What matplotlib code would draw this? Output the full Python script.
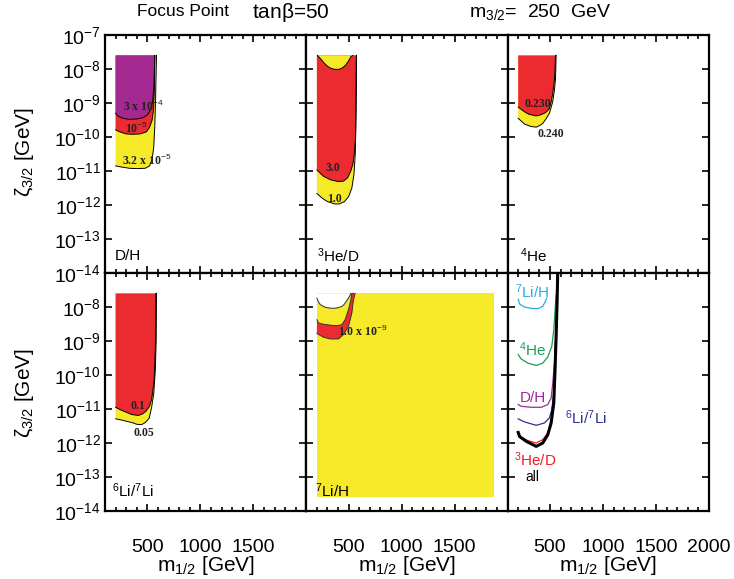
import numpy as np
import matplotlib
matplotlib.use('Agg')
import matplotlib.pyplot as plt
from matplotlib.ticker import FixedLocator, MultipleLocator, NullFormatter

plt.rcParams['font.family'] = ['Liberation Sans', 'DejaVu Sans']
plt.rcParams['mathtext.fontset'] = 'custom'
plt.rcParams['mathtext.rm'] = 'Liberation Sans'
plt.rcParams['mathtext.it'] = 'Liberation Sans:italic'
plt.rcParams['mathtext.bf'] = 'Liberation Sans:bold'

PURPLE = '#a3288f'
RED = '#ec2b30'
YELLOW = '#f6e928'

TOP = -7.6   # upper edge of the scanned region (log10 zeta)
M0 = 200     # left edge of the scanned region

# ---- D/H (top left): boundary curves, m_1/2 [GeV] and log10(zeta_3/2)
dh_yel_m = [586, 578, 570, 560, 545, 520, 480, 400, 330, 250, 200]
dh_yel_lz = [-7.6, -8.8, -9.7, -10.3, -10.65, -10.85, -10.92, -10.93, -10.92, -10.88, -10.85]
dh_red_m = [570, 566, 558, 545, 520, 490, 430, 360, 300, 240, 200]
dh_red_lz = [-7.6, -8.6, -9.2, -9.5, -9.72, -9.85, -9.91, -9.92, -9.91, -9.85, -9.79]
dh_pur_m = [570, 562, 550, 530, 500, 460, 400, 320, 260, 220, 200]
dh_pur_lz = [-7.6, -8.5, -8.95, -9.2, -9.35, -9.43, -9.47, -9.48, -9.44, -9.38, -9.30]

# ---- 3He/D (top middle)
he3_yel_m = [573, 570, 562, 550, 530, 500, 460, 410, 370, 300, 250, 200]
he3_yel_lz = [-7.6, -9.3, -10.5, -11.1, -11.5, -11.75, -11.9, -11.97, -11.97, -11.9, -11.8, -11.66]
he3_red_m = [573, 570, 565, 555, 540, 520, 490, 450, 400, 330, 260, 200]
he3_red_lz = [-7.6, -8.8, -10.0, -10.45, -10.8, -11.0, -11.2, -11.3, -11.31, -11.26, -11.15, -10.97]
he3_cap_m = [205, 240, 270, 300, 332, 370, 410, 445, 473, 500, 520, 540]
he3_cap_lz = [-7.6, -7.72, -7.83, -7.92, -7.98, -8.01, -8.01, -7.96, -7.88, -7.76, -7.64, -7.6]

# ---- 4He (top right)
he4_yel_m = [558, 552, 542, 526, 495, 460, 432, 400, 370, 320, 260, 200]
he4_yel_lz = [-7.6, -8.3, -8.62, -8.96, -9.30, -9.48, -9.60, -9.67, -9.71, -9.69, -9.62, -9.45]
he4_red_m = [552, 548, 542, 526, 511, 495, 470, 448, 410, 370, 300, 260, 200]
he4_red_lz = [-7.6, -8.0, -8.32, -8.72, -8.96, -9.16, -9.25, -9.30, -9.35, -9.38, -9.33, -9.26, -9.12]

# ---- 6Li/7Li (bottom left)
li6_yel_m = [586, 583, 575, 560, 540, 517, 480, 445, 400, 366, 300, 250, 200]
li6_yel_lz = [-7.6, -9.0, -9.84, -10.55, -10.95, -11.27, -11.40, -11.46, -11.45, -11.41, -11.36, -11.32, -11.29]
li6_red_m = [580, 578, 570, 564, 550, 539, 520, 486, 450, 413, 350, 304, 250, 200]
li6_red_lz = [-7.6, -8.86, -9.7, -10.14, -10.5, -10.73, -10.92, -11.07, -11.15, -11.19, -11.16, -11.10, -11.03, -10.95]

# ---- 7Li/H (bottom middle)
li7_box_m = [200, 1875]
li7_box_lz = [-13.6, -7.6]
li7_red_up_m = [545, 530, 520, 498, 467, 436, 389, 340, 295, 250, 216, 200]
li7_red_up_lz = [-7.6, -7.6, -7.79, -8.08, -8.37, -8.52, -8.55, -8.54, -8.52, -8.50, -8.47, -8.37]
li7_red_lo_m = [200, 216, 263, 326, 404, 451, 498, 530, 545, 561]
li7_red_lo_lz = [-8.77, -8.81, -8.89, -8.94, -8.94, -8.81, -8.57, -8.18, -7.79, -7.6]
li7_cap_m = [200, 215, 232, 255, 279, 320, 357, 400, 436, 455, 467, 485, 498, 512, 520]
li7_cap_lz = [-7.74, -7.85, -7.93, -7.97, -8.01, -8.03, -8.04, -8.02, -7.98, -7.93, -7.88, -7.80, -7.74, -7.66, -7.6]

# ---- all constraints (bottom right): boundary lines
c_li7_m = [200, 213, 260, 323, 385, 432, 454, 470]
c_li7_lz = [-7.77, -7.91, -8.00, -8.04, -8.05, -7.98, -7.85, -7.74]
c_he4_m = [200, 229, 291, 370, 432, 479, 517, 536, 548, 558]
c_he4_lz = [-9.40, -9.53, -9.65, -9.72, -9.65, -9.47, -9.16, -8.67, -8.08, -7.64]
c_dh_m = [200, 229, 323, 417, 479, 511, 526, 542, 553]
c_dh_lz = [-10.87, -10.92, -10.95, -10.95, -10.87, -10.68, -10.24, -9.65, -8.86]
c_li6_m = [200, 260, 370, 448, 495, 517, 536, 548, 556]
c_li6_lz = [-11.29, -11.38, -11.48, -11.41, -11.26, -11.02, -10.53, -9.84, -9.0]
c_he3_m = [200, 229, 291, 370, 432, 479, 511, 533, 548, 561, 567]
c_he3_lz = [-11.71, -11.84, -11.93, -12.00, -11.90, -11.71, -11.41, -10.82, -9.84, -8.37, -7.0]
c_all_m = [200, 213, 276, 370, 432, 479, 511, 536, 548, 558, 567, 573]
c_all_lz = [-11.69, -11.81, -11.95, -12.10, -12.00, -11.76, -11.41, -10.82, -9.84, -8.86, -7.88, -7.0]

y_exp = [-7, -8, -9, -10, -11, -12, -13, -14]
x_major = [500, 1000, 1500, 2000]


def fill_region(ax, m, lz, color):
    # boundary curve runs from the top edge round to the left edge
    pm = list(m) + [M0]
    py = list(lz) + [TOP]
    ax.fill(pm, 10.0 ** np.array(py), facecolor=color, edgecolor='none', zorder=2)
    ax.plot(m, 10.0 ** np.array(lz), color='k', lw=0.7, zorder=3)


def cap_region(ax, m, lz, color, ec='k'):
    ax.fill(m, 10.0 ** np.array(lz), facecolor=color, edgecolor='none', zorder=4)
    ax.plot(m, 10.0 ** np.array(lz), color=ec, lw=0.7, zorder=5)


fig = plt.figure(figsize=(7.34, 5.79), dpi=100)
x0, w = 105 / 734, 201.3 / 734
h = 238 / 579
bottoms = [1 - 273 / 579, 1 - 511 / 579]
axes = []
for r in range(2):
    row = []
    for c in range(3):
        ax = fig.add_axes([x0 + c * w, bottoms[r], w, h])
        row.append(ax)
    axes.append(row)

for r in range(2):
    for c in range(3):
        ax = axes[r][c]
        ax.set_yscale('log')
        ax.set_xlim(100, 2000)
        ax.set_ylim(1e-14, 1e-7)
        ax.yaxis.set_major_locator(FixedLocator([10.0 ** e for e in y_exp]))
        ax.yaxis.set_minor_locator(FixedLocator([]))
        ax.xaxis.set_major_locator(FixedLocator(x_major))
        ax.xaxis.set_minor_locator(MultipleLocator(100))
        ax.tick_params(which='both', direction='in', top=True, right=True, width=1.2)
        ax.tick_params(which='major', length=5)
        ax.tick_params(which='minor', length=3)
        for s in ax.spines.values():
            s.set_linewidth(1.6)
        if c == 0:
            labs = [r'$10^{%d}$' % e for e in y_exp]
            if r == 1:
                labs[0] = ''
            ax.set_yticklabels(labs, fontsize=14)
            ax.tick_params(axis='y', pad=3)
        else:
            ax.yaxis.set_major_formatter(NullFormatter())
        if r == 1:
            xl = ['500', '1000', '1500', '2000' if c == 2 else '']
            ax.set_xticklabels(xl, fontsize=14)
            ax.tick_params(axis='x', pad=20)
            ax.set_xlabel(r'm$_{1/2}$ [GeV]', fontsize=15, labelpad=-1)
        else:
            ax.xaxis.set_major_formatter(NullFormatter())

for yc in [152, 393]:
    fig.text(25 / 734, 1 - yc / 579, r'$\mathrm{\zeta}_{3/2}$ [GeV]', rotation=90,
             ha='center', va='center', fontsize=15)

serif = dict(family='Liberation Serif', fontweight='bold', fontsize=8.5, color='#222222', zorder=6)
lab = dict(fontsize=11, zorder=6)

# D/H
ax = axes[0][0]
fill_region(ax, dh_yel_m, dh_yel_lz, YELLOW)
fill_region(ax, dh_red_m, dh_red_lz, RED)
fill_region(ax, dh_pur_m, dh_pur_lz, PURPLE)
ax.text(270, 10 ** -9.1, r'3 x 10$^{-4}$', va='center', **serif)
ax.text(290, 10 ** -9.74, r'10$^{-5}$', va='center', **serif)
ax.text(265, 10 ** -10.68, r'3.2 x 10$^{-5}$', va='center', **serif)
ax.text(190, 10 ** -13.5, 'D/H', va='center', **lab)

# 3He/D
ax = axes[0][1]
fill_region(ax, he3_yel_m, he3_yel_lz, YELLOW)
fill_region(ax, he3_red_m, he3_red_lz, RED)
cap_region(ax, he3_cap_m, he3_cap_lz, YELLOW)
ax.text(350, 10 ** -10.92, '3.0', ha='center', va='center', **serif)
ax.text(365, 10 ** -11.83, '1.0', ha='center', va='center', **serif)
ax.text(200, 10 ** -13.5, r'$^{3}$He/D', va='center', **lab)

# 4He
ax = axes[0][2]
fill_region(ax, he4_yel_m, he4_yel_lz, YELLOW)
fill_region(ax, he4_red_m, he4_red_lz, RED)
ax.text(382, 10 ** -9.03, '0.230', ha='center', va='center', **serif)
ax.text(507, 10 ** -9.92, '0.240', ha='center', va='center', **serif)
ax.text(220, 10 ** -13.5, r'$^{4}$He', va='center', **lab)

# 6Li/7Li
ax = axes[1][0]
fill_region(ax, li6_yel_m, li6_yel_lz, YELLOW)
fill_region(ax, li6_red_m, li6_red_lz, RED)
ax.text(409, 10 ** -10.9, '0.1', ha='center', va='center', **serif)
ax.text(467, 10 ** -11.71, '0.05', ha='center', va='center', **serif)
ax.text(170, 10 ** -13.4, r'$^{6}$Li/$^{7}$Li', va='center', **lab)

# 7Li/H
ax = axes[1][1]
bm = [li7_box_m[0], li7_box_m[1], li7_box_m[1], li7_box_m[0]]
bz = [li7_box_lz[0], li7_box_lz[0], li7_box_lz[1], li7_box_lz[1]]
ax.fill(bm, 10.0 ** np.array(bz), facecolor=YELLOW, edgecolor='none', zorder=2)
rm = li7_red_up_m + li7_red_lo_m
rz = li7_red_up_lz + li7_red_lo_lz
ax.fill(rm, 10.0 ** np.array(rz), facecolor=RED, edgecolor='none', zorder=3)
ax.plot(li7_red_up_m, 10.0 ** np.array(li7_red_up_lz), color='#333333', lw=0.7, zorder=3)
ax.plot(li7_red_lo_m, 10.0 ** np.array(li7_red_lo_lz), color='#333333', lw=0.7, zorder=3)
cm = li7_cap_m + [li7_cap_m[0]]
cz = li7_cap_lz + [li7_cap_lz[-1]]
ax.fill(cm, 10.0 ** np.array(cz), facecolor='white', edgecolor='none', zorder=4)
ax.plot(li7_cap_m, 10.0 ** np.array(li7_cap_lz), color='#444444', lw=0.8, zorder=5)
ax.text(634, 10 ** -8.72, r'1.0 x 10$^{-9}$', ha='center', va='center', **serif)
ax.text(180, 10 ** -13.4, r'$^{7}$Li/H', va='center', **lab)

# all
ax = axes[1][2]
lines = [(c_li7_m, c_li7_lz, '#29abe2', 0.9),
         (c_he4_m, c_he4_lz, '#1a9e50', 0.9),
         (c_dh_m, c_dh_lz, '#a0289a', 0.9),
         (c_li6_m, c_li6_lz, '#2e3192', 0.9),
         (c_he3_m, c_he3_lz, '#ec1c24', 0.9),
         (c_all_m, c_all_lz, 'k', 2.2)]
for m, lz, col, lw in lines:
    ax.plot(m, 10.0 ** np.array(lz), color=col, lw=lw, zorder=3)
ax.text(170, 10 ** -7.54, r'$^{7}$Li/H', color='#29abe2', va='center', fontsize=11)
ax.text(210, 10 ** -9.26, r'$^{4}$He', color='#1a9e50', va='center', fontsize=11)
ax.text(215, 10 ** -10.68, 'D/H', color='#a0289a', va='center', fontsize=11)
ax.text(645, 10 ** -11.27, r'$^{6}$Li/$^{7}$Li', color='#2e3192', va='center', fontsize=11)
ax.text(165, 10 ** -12.49, r'$^{3}$He/D', color='#ec1c24', va='center', fontsize=11)
ax.text(270, 10 ** -13.0, 'all', color='k', va='center', fontsize=10)

fig.text(183 / 734, 1 - 12 / 579, 'Focus Point', ha='center', va='center', fontsize=12.5)
fig.text(291 / 734, 1 - 12 / 579, r'tan$\mathrm{\beta}$=50', ha='center', va='center', fontsize=15)
fig.text(540 / 734, 1 - 12 / 579, r'm$_{3/2}$=  250  GeV', ha='center', va='center', fontsize=14)

fig.savefig('out.png', dpi=100)
